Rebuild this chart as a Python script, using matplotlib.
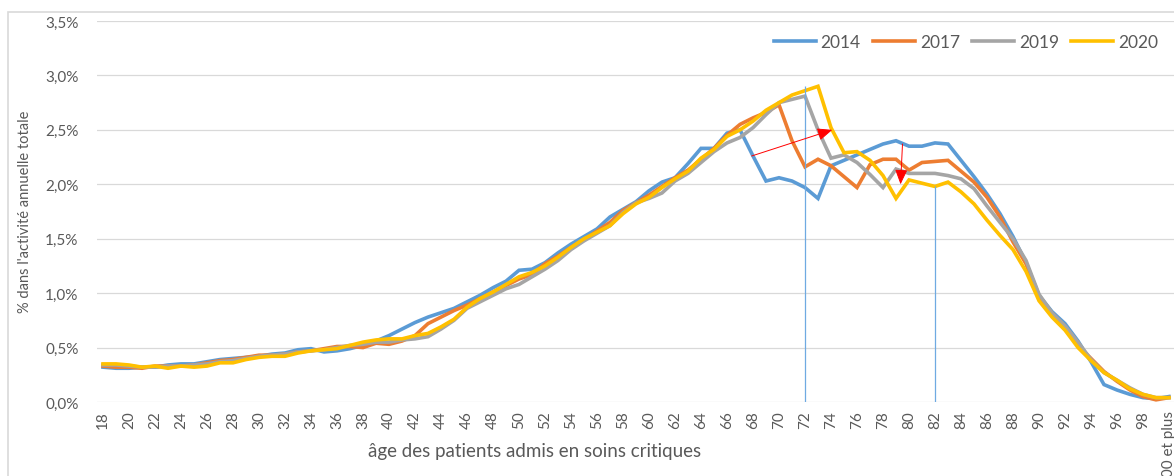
# Part des admissions en soins critiques par âge
# courbes 2014 / 2017 / 2019 / 2020

# Imports
import numpy as np
import matplotlib
matplotlib.use("Agg")
from matplotlib import pyplot as plt
from matplotlib.patches import Rectangle
from matplotlib.ticker import FuncFormatter, MultipleLocator

# Data (% of yearly activity, one value per age, 18 .. "100 et plus")
ages = [str(a) for a in range(18, 100)] + ["100 et plus"]

y2014 = [0.32, 0.31, 0.31, 0.32, 0.32, 0.34, 0.35, 0.35, 0.37, 0.39, 0.40, 0.41, 0.42, 0.44, 0.45, 0.48, 0.49, 0.46, 0.47, 0.49, 0.52, 0.56,
         0.61, 0.67, 0.73, 0.78, 0.82, 0.86, 0.92, 0.98, 1.05, 1.11, 1.21, 1.22, 1.28, 1.37, 1.45,
         1.52, 1.59, 1.70, 1.77, 1.84, 1.94, 2.02, 2.06, 2.19, 2.33, 2.33, 2.47,
         2.50, 2.26, 2.03, 2.06, 2.03, 1.97, 1.87, 2.17, 2.22, 2.27, 2.32, 2.37, 2.40, 2.35, 2.35, 2.38, 2.37,
         2.22, 2.07, 1.91, 1.73, 1.52, 1.28, 0.98, 0.83, 0.72, 0.56, 0.37, 0.16, 0.11, 0.07, 0.04, 0.03, 0.05]

y2017 = [0.33, 0.32, 0.32, 0.31, 0.33, 0.33, 0.33, 0.34, 0.36, 0.38, 0.39, 0.41, 0.43, 0.43, 0.44, 0.46, 0.47, 0.49, 0.51, 0.51, 0.50, 0.54,
         0.53, 0.56, 0.61, 0.72, 0.78, 0.84, 0.89, 0.95, 1.01, 1.07, 1.13, 1.17, 1.27, 1.34, 1.42,
         1.49, 1.57, 1.65, 1.76, 1.83, 1.90, 1.98, 2.06, 2.13, 2.23, 2.33, 2.45,
         2.55, 2.61, 2.66, 2.73, 2.40, 2.16, 2.23, 2.17, 2.07, 1.97, 2.18, 2.23, 2.23, 2.13, 2.20, 2.21, 2.22,
         2.12, 2.02, 1.88, 1.70, 1.47, 1.27, 0.97, 0.80, 0.67, 0.52, 0.40, 0.28, 0.19, 0.11, 0.05, 0.02, 0.04]

y2019 = [0.34, 0.34, 0.33, 0.32, 0.32, 0.33, 0.33, 0.34, 0.35, 0.37, 0.38, 0.40, 0.42, 0.43, 0.44, 0.46, 0.47, 0.48, 0.50, 0.52, 0.53, 0.55,
         0.55, 0.57, 0.58, 0.60, 0.67, 0.75, 0.86, 0.92, 0.98, 1.04, 1.08, 1.15, 1.22, 1.30, 1.40,
         1.48, 1.55, 1.62, 1.74, 1.83, 1.87, 1.92, 2.03, 2.10, 2.20, 2.30, 2.38,
         2.43, 2.52, 2.64, 2.75, 2.78, 2.81, 2.50, 2.24, 2.27, 2.20, 2.09, 1.97, 2.14, 2.10, 2.10, 2.10, 2.08,
         2.05, 1.96, 1.80, 1.65, 1.50, 1.30, 0.99, 0.82, 0.70, 0.55, 0.39, 0.27, 0.20, 0.13, 0.07, 0.04, 0.04]

y2020 = [0.35, 0.35, 0.34, 0.32, 0.33, 0.31, 0.33, 0.32, 0.33, 0.36, 0.36, 0.39, 0.41, 0.42, 0.42, 0.45, 0.47, 0.48, 0.49, 0.52, 0.55, 0.57,
         0.58, 0.58, 0.61, 0.63, 0.69, 0.76, 0.87, 0.95, 1.01, 1.08, 1.15, 1.19, 1.25, 1.33, 1.42,
         1.50, 1.56, 1.62, 1.73, 1.82, 1.88, 1.97, 2.05, 2.12, 2.24, 2.32, 2.44,
         2.50, 2.58, 2.68, 2.75, 2.82, 2.86, 2.90, 2.52, 2.29, 2.30, 2.22, 2.08, 1.87, 2.04, 2.01, 1.98, 2.02,
         1.93, 1.82, 1.67, 1.53, 1.40, 1.20, 0.93, 0.78, 0.66, 0.50, 0.38, 0.27, 0.20, 0.12, 0.07, 0.04, 0.04]

series = [("2014", y2014, "#5B9BD5"),
          ("2017", y2017, "#ED7D31"),
          ("2019", y2019, "#A5A5A5"),
          ("2020", y2020, "#FFC000")]

# vertical markers (age, top value) and red arrows (start, end) in (age, %)
vmarks = [("72", 2.90), ("82", 1.98)]
arrows = [((67.9, 2.26), (74.1, 2.50)),
          ((79.5, 2.37), (79.35, 2.00))]

plt.rcParams["font.family"] = ["Lato", "DejaVu Sans"]
grey = "#595959"

fig = plt.figure(figsize=(11.74, 4.77), dpi=100)
ax = fig.add_axes([96.5 / 1174, 74 / 477, 1079 / 1174, 381 / 477])

x = np.arange(len(ages))
for name, vals, col in series:
    ax.plot(x, vals, color=col, lw=2.6, label=name, solid_joinstyle="miter", zorder=3)

def age_x(a):
    # age -> position on the category axis
    return ages.index(a) if isinstance(a, str) else a - 18

for a, top in vmarks:
    ax.plot([age_x(a), age_x(a)], [0, top], color="#6FAAE2", lw=0.9, zorder=4,
            solid_capstyle="butt")

for (a0, v0), (a1, v1) in arrows:
    ax.annotate("", xy=(age_x(a1), v1), xytext=(age_x(a0), v0),
                arrowprops=dict(arrowstyle="-|>,head_length=0.9,head_width=0.38",
                                color="red", lw=0.7, mutation_scale=10,
                                shrinkA=0, shrinkB=0), zorder=5)

ax.set_xlim(-0.5, len(ages) - 0.5)
ax.set_ylim(0, 3.5)
ax.yaxis.set_major_locator(MultipleLocator(0.5))
ax.yaxis.set_major_formatter(FuncFormatter(lambda v, p: f"{v:.1f}%".replace(".", ",")))
ax.set_xticks(x[::2])
ax.set_xticklabels(ages[::2], rotation=90, va="top", ha="center")
ax.tick_params(axis="y", length=0, pad=13, labelsize=11, labelcolor=grey)
ax.tick_params(axis="x", length=0, pad=6, labelsize=11, labelcolor=grey)
ax.grid(axis="y", color="#d9d9d9", lw=0.9)
ax.set_axisbelow(True)
for s in ax.spines.values():
    s.set_visible(False)

fig.text(535 / 1174, 1 - 452 / 477, "âge des patients admis en soins critiques",
         ha="center", va="center", fontsize=13.5, color=grey)
fig.text(25 / 1174, 1 - 212 / 477, "% dans l'activité annuelle totale",
         ha="center", va="center", rotation=90, fontsize=10.5, color=grey)

fig.legend(loc="center", bbox_to_anchor=(966 / 1174, 1 - 43 / 477), ncol=4, frameon=False,
           fontsize=12.5, labelcolor=grey, handlelength=2.4, handletextpad=0.3,
           columnspacing=0.7)

# chart frame (cropped screenshot)
fig.patches.append(Rectangle((8 / 1174, -0.1), 1.2, 1 - 13 / 477 + 0.1, transform=fig.transFigure,
                             fill=False, edgecolor="#d9d9d9", lw=1.2))

fig.savefig("out.png", dpi=100)
